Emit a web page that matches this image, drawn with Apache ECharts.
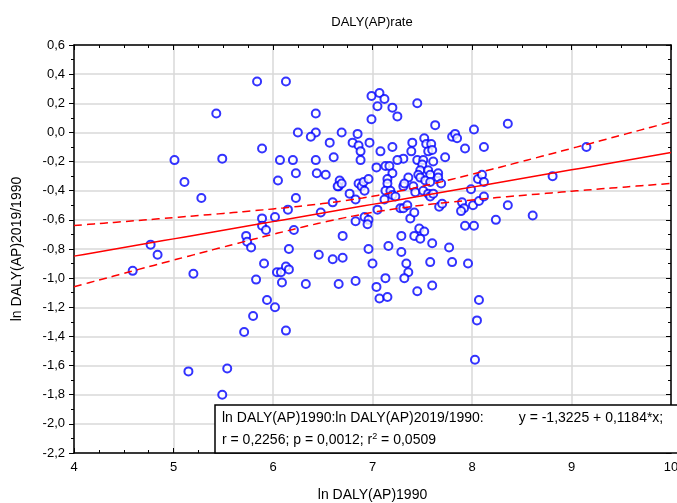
<!DOCTYPE html>
<html>
<head>
<meta charset="utf-8">
<script src="https://cdn.jsdelivr.net/npm/echarts/dist/echarts.min.js"></script>
<style>
  html, body { margin: 0; padding: 0; background: #fff; }
  #chart { width: 677px; height: 503px; }
</style>
</head>
<body>
<div id="chart"></div>
<script>
// ln DALY(AP)1990 (x) and ln DALY(AP)2019/1990 (y)
const lnDaly1990 = [
  4.59, 4.77, 4.84, 5.01, 5.11, 5.20, 5.15, 5.28, 5.43, 5.49, 5.54, 5.49, 5.71, 5.80, 5.94, 6.02,
  6.13, 5.83, 5.91, 5.73, 5.74, 5.78, 5.89, 5.89, 5.93, 6.21, 6.16, 6.46, 6.04, 6.08, 6.13, 6.16,
  6.09, 6.33, 6.60, 5.84, 6.13, 6.43, 6.25, 6.43, 6.38, 6.57, 5.89, 6.07, 6.20, 6.43, 6.05, 6.23,
  6.44, 6.53, 6.23, 6.15, 6.48, 6.02, 6.61, 6.66, 6.60, 6.66, 6.99, 7.07, 7.12, 7.05, 7.20, 7.45,
  7.25, 6.99, 7.63, 8.36, 6.69, 6.85, 6.80, 6.86, 6.97, 6.88, 6.88, 7.08, 7.20, 7.40, 7.52, 7.54,
  7.59, 7.56, 7.60, 7.39, 7.31, 7.25, 7.45, 7.51, 7.61, 7.73, 7.50, 7.04, 7.13, 7.17, 7.20, 7.48,
  7.56, 7.58, 7.66, 7.66, 7.46, 7.36, 7.48, 7.53, 7.58, 7.15, 7.15, 6.67, 6.65, 6.69, 6.86, 6.89,
  6.91, 6.96, 6.92, 6.77, 6.83, 7.13, 7.18, 7.20, 7.23, 7.31, 7.32, 7.41, 7.43, 7.51, 7.56, 7.58,
  7.61, 7.69, 7.12, 7.05, 7.28, 7.31, 7.35, 7.38, 7.42, 7.67, 7.70, 7.90, 7.92, 7.89, 8.01, 7.99,
  8.06, 8.10, 8.12, 8.07, 8.12, 8.36, 8.24, 6.83, 6.92, 6.96, 6.95, 7.47, 7.52, 7.93, 8.02, 8.12,
  8.02, 7.93, 7.80, 7.83, 7.85, 9.15, 8.81, 8.61, 8.07, 8.05, 8.03, 7.60, 7.77, 7.58, 7.80, 7.96,
  7.60, 6.70, 6.70, 6.96, 7.00, 7.16, 7.29, 7.29, 7.42, 7.48, 7.34, 7.36, 7.32, 7.13, 6.83, 7.04,
  7.07, 7.15, 7.45
];
const lnRatio = [
  -0.95, -0.77, -0.84, -0.19, -0.34, -0.97, -1.64, -0.45, 0.13, -0.18, -1.62, -1.80, -1.37, -1.26, -1.15, -1.20,
  -1.36, -1.01, -0.90, -0.71, -0.75, -0.79, -0.59, -0.64, -0.67, -0.67, -0.80, -0.84, -0.96, -0.96, -0.92, -0.94,
  -1.03, -1.04, -0.87, 0.35, 0.35, 0.13, 0.00, 0.00, -0.03, -0.07, -0.11, -0.19, -0.19, -0.19, -0.33, -0.28,
  -0.28, -0.29, -0.45, -0.53, -0.55, -0.58, -0.17, -0.37, -0.48, -1.04, 0.25, 0.27, 0.23, 0.18, 0.17, 0.20,
  0.11, 0.09, 0.05, 0.06, 0.00, -0.01, -0.07, -0.09, -0.07, -0.13, -0.19, -0.13, -0.10, -0.07, -0.04, -0.08,
  -0.08, -0.13, -0.12, -0.13, -0.18, -0.19, -0.19, -0.19, -0.20, -0.17, -0.22, -0.24, -0.23, -0.23, -0.28, -0.26,
  -0.26, -0.29, -0.28, -0.31, -0.29, -0.31, -0.31, -0.33, -0.34, -0.32, -0.35, -0.33, -0.37, -0.35, -0.35, -0.37,
  -0.34, -0.32, -0.40, -0.42, -0.46, -0.40, -0.40, -0.43, -0.44, -0.37, -0.35, -0.37, -0.41, -0.40, -0.42, -0.44,
  -0.42, -0.35, -0.46, -0.53, -0.52, -0.52, -0.50, -0.59, -0.55, -0.51, -0.49, -0.48, -0.52, -0.54, -0.50, -0.39,
  -0.32, -0.29, -0.34, -0.47, -0.44, -0.50, -0.60, -0.61, -0.58, -0.60, -0.63, -0.66, -0.68, -0.64, -0.64, -0.10,
  0.02, -0.11, -0.03, -0.01, -0.04, -0.10, -0.30, -0.57, -1.15, -1.29, -1.56, -0.76, -0.79, -0.89, -0.89, -0.90,
  -1.05, -0.71, -0.86, -0.80, -0.90, -0.78, -0.82, -0.71, -0.71, -0.73, -0.90, -0.96, -1.00, -1.00, -1.02, -1.06,
  -1.14, -1.13, -1.09
];

// regression from the legend: y = -1,3225 + 0,1184*x
const intercept = -1.3225;
const slope = 0.1184;
const xRange = [4, 10];
const yRange = [-2.2, 0.6];
const legendLine1 = 'ln DALY(AP)1990:ln DALY(AP)2019/1990:         y = -1,3225 + 0,1184*x;';
const legendLine2 = 'r = 0,2256; p = 0,0012; r{sup|2} = 0,0509';

const points = lnDaly1990.map((x, i) => [x, lnRatio[i]]);

// 95% confidence band of the fitted line, from the residuals of the points
const n = points.length;
const xMean = lnDaly1990.reduce((a, b) => a + b, 0) / n;
let sxx = 0, sse = 0;
points.forEach(([x, y]) => {
  sxx += (x - xMean) * (x - xMean);
  const r = y - (intercept + slope * x);
  sse += r * r;
});
const s = Math.sqrt(sse / (n - 2));
const tVal = 1.97;
const fitLine = [], upper = [], lower = [];
for (let i = 0; i <= 60; i++) {
  const x = xRange[0] + i * (xRange[1] - xRange[0]) / 60;
  const yh = intercept + slope * x;
  const h = tVal * s * Math.sqrt(1 / n + (x - xMean) * (x - xMean) / sxx);
  fitLine.push([x, yh]);
  upper.push([x, yh + h]);
  lower.push([x, yh - h]);
}

const font = 'Liberation Sans, Arial, sans-serif';
const fmt = v => v.toFixed(1).replace('.', ',');

const chart = echarts.init(document.getElementById('chart'), null, { renderer: 'canvas' });
chart.setOption({
  animation: false,
  backgroundColor: '#fff',
  textStyle: { fontFamily: font },
  grid: { left: 74, right: 6, top: 45, bottom: 50, containLabel: false, outerBoundsMode: 'none' },
  xAxis: [
    {
      type: 'value', min: xRange[0], max: xRange[1], interval: 1,
      name: 'ln DALY(AP)1990', nameLocation: 'middle', nameGap: 35,
      nameTextStyle: { color: '#000', fontSize: 14, fontFamily: font },
      axisLine: { onZero: false, lineStyle: { color: '#000', width: 1.5 } },
      axisTick: { inside: true, length: 5, lineStyle: { color: '#000' } },
      minorTick: { show: true, splitNumber: 4, length: 3, lineStyle: { color: '#000' } },
      axisLabel: { color: '#000', fontSize: 13, margin: 8, fontFamily: font },
      splitLine: { show: true, lineStyle: { color: '#d8d8d8', width: 1.5 } }
    },
    {
      type: 'value', position: 'top', min: xRange[0], max: xRange[1], interval: 1,
      axisLine: { onZero: false, lineStyle: { color: '#000', width: 1.5 } },
      axisTick: { inside: true, length: 5, lineStyle: { color: '#000' } },
      minorTick: { show: true, splitNumber: 4, length: 3, lineStyle: { color: '#000' } },
      axisLabel: { show: false },
      splitLine: { show: false }
    }
  ],
  yAxis: [
    {
      type: 'value', min: yRange[0], max: yRange[1], interval: 0.2,
      name: 'ln DALY(AP)2019/1990', nameLocation: 'middle', nameGap: 50,
      nameTextStyle: { color: '#000', fontSize: 14, fontFamily: font },
      axisLine: { onZero: false, lineStyle: { color: '#000', width: 1.5 } },
      axisTick: { length: 5, lineStyle: { color: '#000' } },
      minorTick: { show: true, splitNumber: 2, length: 3, lineStyle: { color: '#000' } },
      axisLabel: { color: '#000', fontSize: 13, margin: 9, formatter: fmt, fontFamily: font },
      splitLine: { show: true, lineStyle: { color: '#d8d8d8', width: 1.5 } }
    },
    {
      type: 'value', position: 'right', min: yRange[0], max: yRange[1], interval: 0.2,
      axisLine: { onZero: false, lineStyle: { color: '#000', width: 1.5 } },
      axisTick: { inside: true, length: 5, lineStyle: { color: '#000' } },
      minorTick: { show: true, splitNumber: 2, length: 3, lineStyle: { color: '#000' } },
      axisLabel: { show: false },
      splitLine: { show: false }
    }
  ],
  series: [
    {
      type: 'scatter', data: points, symbol: 'emptyCircle', symbolSize: 8,
      itemStyle: { color: '#0000ff', borderWidth: 1.5 }
    },
    {
      type: 'line', data: fitLine, showSymbol: false, symbol: 'none',
      lineStyle: { color: '#ff0000', width: 1.5 }
    },
    {
      type: 'line', data: upper, showSymbol: false, symbol: 'none', smooth: true,
      lineStyle: { color: '#ff0000', width: 1.5, type: [8, 5] }
    },
    {
      type: 'line', data: lower, showSymbol: false, symbol: 'none', smooth: true,
      lineStyle: { color: '#ff0000', width: 1.5, type: [8, 5] }
    }
  ],
  graphic: [
    {
      type: 'text', x: 372, y: 22,
      style: { text: 'DALY(AP)rate', fill: '#000', font: '13px ' + font, align: 'center', verticalAlign: 'middle' }
    },
    {
      type: 'rect', x: 215, y: 405, z: 100,
      shape: { x: 0, y: 0, width: 480, height: 48 },
      style: { fill: '#fff', stroke: '#000', lineWidth: 1.5 }
    },
    {
      type: 'text', x: 222, y: 418, z: 101,
      style: { text: legendLine1, fill: '#000', font: '14px ' + font, verticalAlign: 'middle' }
    },
    {
      type: 'text', x: 222, y: 440, z: 101,
      style: {
        text: legendLine2, fill: '#000', fontSize: 14, fontFamily: font, verticalAlign: 'middle',
        rich: { sup: { fontSize: 9, fontFamily: font, fill: '#000', verticalAlign: 'top', padding: [0, 0, 6, 0] } }
      }
    }
  ]
});
</script>
</body>
</html>
